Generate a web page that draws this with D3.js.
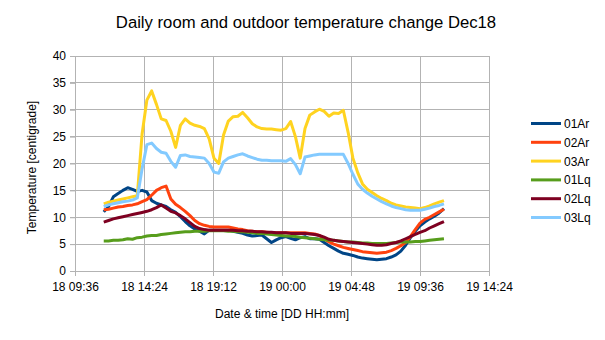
<!DOCTYPE html>
<html>
<head>
<meta charset="utf-8">
<script src="https://cdn.jsdelivr.net/npm/d3@7"></script>
<style>
  html, body { margin: 0; padding: 0; background: #fff; }
  svg { display: block; font-family: "Liberation Sans", Arial, sans-serif; }
</style>
</head>
<body>
<svg id="chart" width="605" height="340"></svg>
<script>
// ---- data ----
const title = "Daily room and outdoor temperature change Dec18";
const xTitle = "Date & time [DD HH:mm]";
const yTitle = "Temperature [centigrade]";
const startTime = "2018-12-18T11:36:00Z";   // first sample
const sampleMinutes = 20;                    // sampling interval
const xTickLabels = ["18 09:36", "18 14:24", "18 19:12", "19 00:00", "19 04:48", "19 09:36", "19 14:24"];
const yTicks = [0, 5, 10, 15, 20, 25, 30, 35, 40];
const seriesNames = ["01Ar", "02Ar", "03Ar", "01Lq", "02Lq", "03Lq"];
const seriesColors = ["#004586", "#ff420e", "#ffd320", "#579d1c", "#7e0021", "#83caff"];

const s01Ar = [11.0,12.0,13.8,14.4,15.0,15.5,15.2,14.8,15.0,14.7,13.1,12.6,12.3,12.0,11.4,10.9,10.1,9.2,8.4,7.8,
  7.4,6.9,7.6,7.6,7.6,7.6,7.6,7.4,7.2,7.0,6.7,6.5,6.6,6.7,6.0,5.3,5.8,6.2,6.4,6.1,
  5.8,6.2,6.4,6.0,6.0,5.9,5.3,4.7,4.2,3.7,3.3,3.1,2.9,2.6,2.4,2.3,2.2,2.1,2.2,2.3,
  2.6,3.0,3.7,4.8,6.2,7.4,8.4,9.1,9.7,10.2,10.8,11.6];
const s02Ar = [11.4,11.5,11.7,11.9,12.0,12.2,12.3,12.5,12.9,13.3,14.1,15.0,15.5,15.8,13.4,12.4,11.8,11.1,10.3,9.4,
  8.8,8.5,8.3,8.2,8.2,8.2,8.2,8.0,7.8,7.7,7.5,7.4,7.3,7.3,7.2,7.1,7.1,7.1,7.1,7.1,
  7.1,7.1,7.1,7.0,6.9,6.6,6.0,5.4,5.0,4.7,4.4,4.2,4.0,3.8,3.6,3.5,3.4,3.3,3.4,3.5,
  3.8,4.2,4.7,5.3,6.4,7.7,8.9,9.6,10.0,10.5,11.0,11.5];
const s03Ar = [12.5,12.8,13.0,13.2,13.4,13.6,13.8,14.0,25.5,31.8,33.5,31.0,28.3,28.0,26.0,23.0,27.1,28.3,27.5,27.1,
  26.9,26.5,24.6,21.0,20.0,25.3,27.9,28.7,28.8,29.5,28.5,27.4,26.8,26.5,26.4,26.4,26.3,26.2,26.5,27.8,
  25.0,21.0,26.5,29.0,29.6,30.1,29.7,28.8,29.4,29.3,29.9,25.8,21.0,18.3,16.2,15.2,14.6,14.0,13.5,13.1,
  12.6,12.3,12.1,11.9,11.8,11.7,11.6,11.8,12.1,12.5,12.8,13.1];
const s01Lq = [5.6,5.6,5.7,5.7,5.8,6.0,5.9,6.2,6.3,6.5,6.6,6.6,6.8,6.9,7.0,7.1,7.2,7.3,7.3,7.4,
  7.4,7.4,7.5,7.5,7.5,7.5,7.4,7.4,7.3,7.3,7.2,7.1,7.0,7.0,6.9,6.8,6.7,6.6,6.5,6.5,
  6.4,6.3,6.2,6.1,6.0,5.9,5.8,5.7,5.7,5.6,5.5,5.4,5.4,5.3,5.2,5.2,5.1,5.1,5.1,5.1,
  5.2,5.3,5.4,5.4,5.4,5.5,5.5,5.6,5.7,5.8,5.9,6.0];
const s02Lq = [9.1,9.4,9.7,9.9,10.1,10.3,10.5,10.7,10.9,11.1,11.4,11.8,12.3,11.7,11.1,10.8,10.3,9.7,9.0,8.3,
  7.9,7.7,7.6,7.6,7.6,7.6,7.6,7.6,7.5,7.5,7.4,7.4,7.3,7.3,7.2,7.2,7.1,7.1,7.1,7.0,
  7.0,7.0,7.0,6.9,6.8,6.6,6.3,5.9,5.7,5.6,5.5,5.4,5.3,5.2,5.1,5.0,4.9,4.8,4.8,4.9,
  5.1,5.3,5.6,6.0,6.4,6.8,7.2,7.5,8.0,8.4,8.8,9.2];
const s03Lq = [12.0,12.3,12.5,12.7,12.9,13.0,13.2,13.6,19.0,23.5,23.8,22.8,22.1,21.9,20.4,19.3,21.5,21.6,21.3,21.2,
  21.1,21.0,20.0,18.4,18.2,20.3,21.0,21.3,21.6,21.8,21.4,21.1,20.8,20.6,20.6,20.5,20.5,20.5,20.4,20.9,
  19.8,18.1,21.2,21.4,21.6,21.7,21.7,21.7,21.7,21.7,21.7,20.0,18.0,16.2,15.2,14.5,13.9,13.4,12.9,12.5,
  12.1,11.8,11.6,11.4,11.3,11.3,11.3,11.5,11.7,12.0,12.2,12.5];
const seriesValues = [s01Ar, s02Ar, s03Ar, s01Lq, s02Lq, s03Lq];

// ---- layout ----
const svg = d3.select("#chart");
const margin = { left: 75, right: 116, top: 56, bottom: 69 };
const W = 605, H = 340;
const x0 = margin.left, x1 = W - margin.right, y0 = margin.top, y1 = H - margin.bottom;

const parse = d3.utcParse("%d %H:%M");
const tickDates = xTickLabels.map(s => { const d = parse(s); return new Date(Date.UTC(2018, 11, d.getUTCDate(), d.getUTCHours(), d.getUTCMinutes())); });
const x = d3.scaleUtc().domain([tickDates[0], tickDates[tickDates.length - 1]]).range([x0, x1]);
const y = d3.scaleLinear().domain([0, 40]).range([y1, y0]);

const t0 = new Date(startTime).getTime();
const times = s01Ar.map((_, i) => new Date(t0 + i * sampleMinutes * 60000));

const grid = "#b3b3b3";

// gridlines
svg.append("g").selectAll("line.h").data(yTicks).join("line")
  .attr("x1", x0 - 5).attr("x2", x1).attr("y1", d => y(d)).attr("y2", d => y(d))
  .attr("stroke", grid).attr("stroke-width", 1).attr("shape-rendering", "crispEdges");
svg.append("g").selectAll("line.v").data(tickDates).join("line")
  .attr("x1", d => x(d)).attr("x2", d => x(d)).attr("y1", y0).attr("y2", y1 + 5)
  .attr("stroke", grid).attr("stroke-width", 1).attr("shape-rendering", "crispEdges");

// axes labels
const fmt = d3.utcFormat("%d %H:%M");
const xAxis = d3.axisBottom(x).tickValues(tickDates).tickFormat(fmt).tickSize(5).tickPadding(6);
const gx = svg.append("g").attr("transform", `translate(0,${y1})`).call(xAxis);
gx.select(".domain").attr("stroke", grid);
gx.selectAll(".tick line").attr("stroke", grid);
gx.selectAll("text").attr("font-size", 12).attr("fill", "#000").attr("font-family", "Liberation Sans, Arial, sans-serif");

const yAxis = d3.axisLeft(y).tickValues(yTicks).tickSize(5).tickPadding(4);
const gy = svg.append("g").attr("transform", `translate(${x0},0)`).call(yAxis);
gy.select(".domain").attr("stroke", grid);
gy.selectAll(".tick line").attr("stroke", grid);
gy.selectAll("text").attr("font-size", 12).attr("fill", "#000").attr("font-family", "Liberation Sans, Arial, sans-serif");

// lines
const line = d3.line().x((d, i) => x(times[i])).y(d => y(d)).curve(d3.curveLinear);
seriesValues.forEach((vals, k) => {
  svg.append("path").datum(vals)
    .attr("d", line)
    .attr("fill", "none")
    .attr("stroke", seriesColors[k])
    .attr("stroke-width", 3)
    .attr("stroke-linejoin", "round")
    .attr("stroke-linecap", "butt");
});

// titles
svg.append("text").attr("x", 306).attr("y", 28).attr("text-anchor", "middle")
  .attr("font-size", 16.7).attr("fill", "#000").text(title);
svg.append("text").attr("x", (x0 + x1) / 2).attr("y", 318).attr("text-anchor", "middle")
  .attr("font-size", 12).attr("fill", "#000").text(xTitle);
svg.append("text").attr("transform", `translate(36,${(y0 + y1) / 2 + 4}) rotate(-90)`).attr("text-anchor", "middle")
  .attr("font-size", 12).attr("fill", "#000").text(yTitle);

// legend
const lg = svg.append("g");
seriesNames.forEach((n, k) => {
  const ly = 123.5 + k * 18.8;
  lg.append("line").attr("x1", 531).attr("x2", 561).attr("y1", ly).attr("y2", ly)
    .attr("stroke", seriesColors[k]).attr("stroke-width", 3);
  lg.append("text").attr("x", 564).attr("y", ly + 4.5).attr("font-size", 12).attr("fill", "#000").text(n);
});
</script>
</body>
</html>
